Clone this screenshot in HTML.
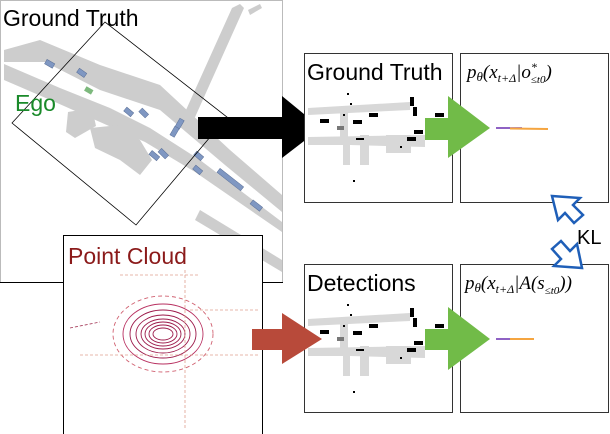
<!DOCTYPE html>
<html><head><style>
html,body{margin:0;padding:0;background:#fff;width:610px;height:434px;overflow:hidden}
svg{display:block}
text{font-family:"Liberation Sans",sans-serif}
.m{font-family:"Liberation Serif",serif;font-style:italic}
</style></head><body>
<svg width="610" height="434" viewBox="0 0 610 434">
<!-- Left ground-truth map -->
<rect x="0.5" y="0.5" width="282" height="282" fill="#fff" stroke="#bbb"/>
<g fill="#cdcdcd">
<polygon points="4,50 40,40 100,65 160,85 230,150 282,195 282,212 225,165 160,110 100,90 45,62 4,62"/>
<polygon points="4,64 60,88 110,108 150,128 200,160 282,222 282,232 195,172 145,142 100,122 55,102 4,80"/>
<polygon points="178,118 186,110 232,8 240,4 244,8 196,115 190,128"/>
<polygon points="68,112 92,108 96,126 75,138 66,132"/>
<polygon points="90,128 120,125 140,140 152,160 140,175 120,160 95,148"/>
<polygon points="200,210 282,260 282,272 195,220"/>
<polygon points="248,10 260,4 262,8 250,15"/>
</g>
<g fill="#7f97c2" stroke="#5a6f96" stroke-width="0.5">
<rect x="45" y="61" width="9" height="5" transform="rotate(30 49 64)"/>
<rect x="77" y="70" width="9" height="5" transform="rotate(35 81 73)"/>
<rect x="124" y="109" width="9" height="5" transform="rotate(40 128 112)"/>
<rect x="139" y="110" width="9" height="5" transform="rotate(45 143 113)"/>
<rect x="175" y="121" width="10" height="5" transform="rotate(-60 180 124)"/>
<rect x="170" y="129" width="10" height="5" transform="rotate(-60 175 132)"/>
<rect x="149" y="153" width="10" height="5" transform="rotate(40 154 156)"/>
<rect x="158" y="151" width="10" height="5" transform="rotate(45 163 154)"/>
<rect x="194" y="153" width="9" height="5" transform="rotate(40 198 156)"/>
<rect x="193" y="167" width="9" height="5" transform="rotate(40 197 170)"/>
<rect x="215" y="177" width="30" height="5" transform="rotate(38 230 180)"/>
<rect x="250" y="203" width="12" height="5" transform="rotate(38 256 206)"/>
</g>
<rect x="85" y="88" width="8" height="5" fill="#7db97d" transform="rotate(30 89 90)"/>
<polygon points="12,123 105,22 227,117 136,225" fill="none" stroke="#000" stroke-width="0.8"/>
<text x="3" y="26" font-size="23" fill="#000">Ground Truth</text>
<text x="15" y="111" font-size="23" fill="#1a8a2a">Ego</text>
<line x1="0" y1="282.5" x2="283" y2="282.5" stroke="#000"/>
<!-- Point cloud box -->
<rect x="63.5" y="235.5" width="199" height="200" fill="#fff" stroke="#000"/>
<text x="68" y="264" font-size="23" fill="#8b1a1a">Point Cloud</text>
<g fill="none" stroke="#9c1a4a" stroke-width="0.9">
<ellipse cx="163" cy="334" rx="10" ry="6"/>
<ellipse cx="163" cy="334" rx="14" ry="9"/>
<ellipse cx="163" cy="334" rx="18" ry="12"/>
<ellipse cx="163" cy="334" rx="22" ry="15"/>
<ellipse cx="163" cy="334" rx="27" ry="19"/>
<ellipse cx="163" cy="334" rx="33" ry="24"/>
<ellipse cx="163" cy="334" rx="40" ry="30" stroke="#b83060"/>
<ellipse cx="163" cy="334" rx="50" ry="38" stroke="#d06070" stroke-dasharray="4 3"/>
</g>
<g stroke="#e0a090" stroke-width="0.8" fill="none" stroke-dasharray="3 2">
<line x1="185" y1="270" x2="185" y2="430"/>
<line x1="80" y1="355" x2="260" y2="355"/>
<line x1="190" y1="310" x2="260" y2="310"/>
<line x1="120" y1="275" x2="200" y2="275"/>
</g>
<line x1="70" y1="328" x2="100" y2="322" stroke="#a03050" stroke-width="0.8" stroke-dasharray="3 2"/>
<!-- Black arrow -->
<polygon points="198,117 282,117 282,96 321,128 282,158 282,139 198,139" fill="#000"/>
<!-- Right boxes -->
<g fill="#fff" stroke="#333">
<rect x="304.5" y="53.5" width="148" height="149"/>
<rect x="460.5" y="53.5" width="148" height="149"/>
<rect x="304.5" y="264.5" width="148" height="148"/>
<rect x="460.5" y="264.5" width="148" height="148"/>
</g>
<g id="mini">
<g fill="#d8d8d8">
<polygon points="308,108 410,102 410,110 308,115"/>
<polygon points="308,137 425,135 425,147 350,145 350,165 343,165 343,145 308,145"/>
<rect x="340" y="108" width="8" height="30"/>
<rect x="360" y="135" width="9" height="30"/>
<rect x="386" y="135" width="25" height="18"/>
</g>
<g fill="#000">
<rect x="320" y="119" width="9" height="4"/><rect x="369" y="113" width="9" height="4"/>
<rect x="353" y="120" width="9" height="4"/><rect x="410" y="97" width="4" height="9"/>
<rect x="413" y="107" width="4" height="9"/><rect x="414" y="130" width="9" height="4"/>
<rect x="407" y="137" width="9" height="4"/><rect x="435" y="113" width="9" height="4"/>
<rect x="347" y="93" width="2" height="2"/><rect x="350" y="103" width="2" height="2"/>
<rect x="343" y="114" width="2" height="2"/><rect x="356" y="138" width="8" height="2"/>
<rect x="353" y="180" width="2" height="2"/><rect x="400" y="146" width="2" height="2"/>
</g>
<rect x="337" y="126" width="7" height="4" fill="#777"/>
</g>
<use href="#mini" transform="translate(0,211)"/>
<!-- Green arrows -->
<polygon points="425,118 448,118 448,96 490,128 448,158 448,140 425,140" fill="#71bb48"/>
<polygon points="425,329 448,329 448,307 490,339 448,370 448,350 425,350" fill="#71bb48"/>
<!-- Red arrow -->
<polygon points="252,329 282,329 282,313 322,339 282,364 282,350 252,350" fill="#b84a3a"/>
<!-- Trajectories -->
<line x1="496" y1="128" x2="522" y2="128" stroke="#6a2fb0" stroke-width="1.5"/>
<line x1="510" y1="128.5" x2="548" y2="129" stroke="#f5a540" stroke-width="2"/>
<line x1="496" y1="339" x2="515" y2="339" stroke="#6a2fb0" stroke-width="1.5"/>
<line x1="510" y1="339" x2="534" y2="339" stroke="#f5a540" stroke-width="2"/>
<!-- Formulas -->
<text x="467" y="78" class="m" font-size="19">p<tspan font-size="13" dy="3">θ</tspan><tspan dy="-3">(x</tspan><tspan font-size="12" dy="4">t+Δ</tspan><tspan dy="-4">|o</tspan><tspan font-size="12" dy="-7">*</tspan><tspan font-size="11" dx="-6" dy="12">≤t0</tspan><tspan dy="-5">)</tspan></text>
<text x="465" y="289" class="m" font-size="19">p<tspan font-size="13" dy="3">θ</tspan><tspan dy="-3">(x</tspan><tspan font-size="12" dy="4">t+Δ</tspan><tspan dy="-4">|A(s</tspan><tspan font-size="11" dy="5">≤t0</tspan><tspan dy="-5">))</tspan></text>
<text x="307" y="80" font-size="23">Ground Truth</text>
<text x="307" y="291" font-size="23">Detections</text>
<!-- KL arrows -->
<g fill="#fff" stroke="#1f5fb8" stroke-width="2.5" stroke-linejoin="miter">
<polygon points="552,196 580,198 573,205 583,215 574,223 565,213 558,220" />
<polygon points="582,268 554,266 561,259 552,249 561,241 570,251 577,244"/>
</g>
<text x="577" y="244" font-size="20">KL</text>
</svg>
</body></html>
